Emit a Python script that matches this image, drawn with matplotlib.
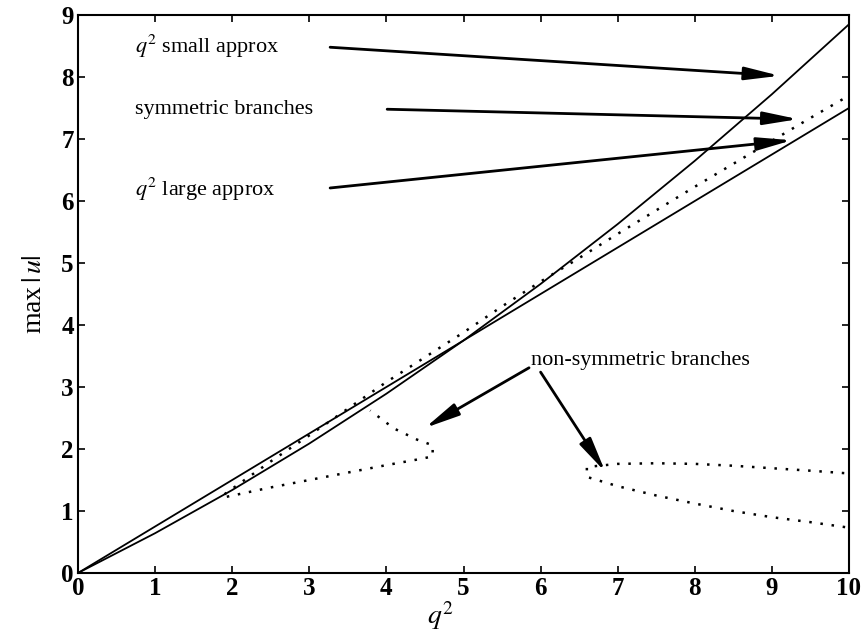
import matplotlib
matplotlib.use("Agg")
import matplotlib.pyplot as plt
import numpy as np

plt.rcParams['font.family'] = ['Liberation Serif', 'DejaVu Serif']
plt.rcParams['mathtext.fontset'] = 'stix'

# q^2 sample points
q2 = [0, 1, 2, 3, 4, 5, 6, 7, 8, 9, 10]
small_approx = [0, 0.642, 1.338, 2.088, 2.892, 3.75, 4.662, 5.628, 6.648, 7.722, 8.85]
large_approx = [0, 0.75, 1.5, 2.25, 3.0, 3.75, 4.5, 5.25, 6.0, 6.75, 7.5]

sym_x = [1.9, 2.5, 3.0, 3.5, 4.0, 4.5, 5.0, 5.5, 6.0, 6.5, 7.0, 7.5, 8.0, 8.5, 9.0, 9.5, 10.0]
sym_y = [1.27, 1.8, 2.22, 2.65, 3.08, 3.48, 3.88, 4.3, 4.7, 5.08, 5.47, 5.85, 6.23, 6.6, 6.97, 7.34, 7.7]

ns1_x = [1.93, 2.5, 3.0, 3.5, 4.0, 4.4, 4.6, 4.6, 4.4, 4.1, 3.79]
ns1_y = [1.23, 1.38, 1.5, 1.62, 1.74, 1.83, 1.88, 2.06, 2.15, 2.33, 2.62]

ns2_x = [9.95, 9.5, 9.0, 8.5, 8.0, 7.5, 7.0, 6.6, 6.6, 7.0, 7.5, 8.0, 8.5, 9.0, 9.5, 9.95]
ns2_y = [0.74, 0.82, 0.9, 1.0, 1.12, 1.25, 1.40, 1.55, 1.71, 1.76, 1.77, 1.76, 1.73, 1.69, 1.65, 1.61]

xticks = [0, 1, 2, 3, 4, 5, 6, 7, 8, 9, 10]
yticks = [0, 1, 2, 3, 4, 5, 6, 7, 8, 9]

fig = plt.figure(figsize=(8.62, 6.36), dpi=100)
ax = fig.add_axes([78/862, 1-573/636, (849-78)/862, (573-15)/636])

ax.plot(q2, small_approx, color='black', lw=1.3)
ax.plot(q2, large_approx, color='black', lw=1.3)
dot = (0, (1, 3.5))
ax.plot(sym_x, sym_y, color='black', lw=1.8, ls=dot)
ax.plot(ns1_x, ns1_y, color='black', lw=1.8, ls=dot)
ax.plot(ns2_x, ns2_y, color='black', lw=1.8, ls=dot)

ax.set_xlim(0, 10)
ax.set_ylim(0, 9)
ax.set_xticks(xticks)
ax.set_yticks(yticks)
ax.tick_params(direction='in', top=True, right=True, length=5, width=1.2,
               labelsize=18, pad=3)
for lab in ax.get_xticklabels() + ax.get_yticklabels():
    lab.set_fontweight('bold')
for s in ax.spines.values():
    s.set_linewidth(1.5)

fig.text(440/862, 0.006, '$q^2$', fontsize=20, ha='center', va='bottom')
ax.set_ylabel(r'max$\,|\,u|$', fontsize=20, labelpad=10)

fs = 16
ax.text(0.74, 8.5, '$q^2$ small approx', fontsize=fs, va='center', ha='left')
ax.text(0.74, 7.47, 'symmetric branches', fontsize=fs, va='center', ha='left')
ax.text(0.74, 6.18, '$q^2$ large approx', fontsize=fs, va='center', ha='left')
ax.text(5.88, 3.42, 'non-symmetric branches', fontsize=fs, va='center', ha='left')

ap = dict(arrowstyle='-|>,head_length=1.5,head_width=0.28', color='black', lw=2,
          mutation_scale=14, shrinkA=0, shrinkB=0)
arrows = [((3.27, 8.48), (9.1, 8.02)),
          ((4.01, 7.48), (9.34, 7.32)),
          ((3.27, 6.21), (9.26, 6.98)),
          ((5.85, 3.31), (4.5, 2.34)),
          ((6.0, 3.24), (6.84, 1.63))]
for tail, tip in arrows:
    ax.annotate('', xy=tip, xytext=tail, arrowprops=ap)

fig.savefig('out.png', dpi=100)
